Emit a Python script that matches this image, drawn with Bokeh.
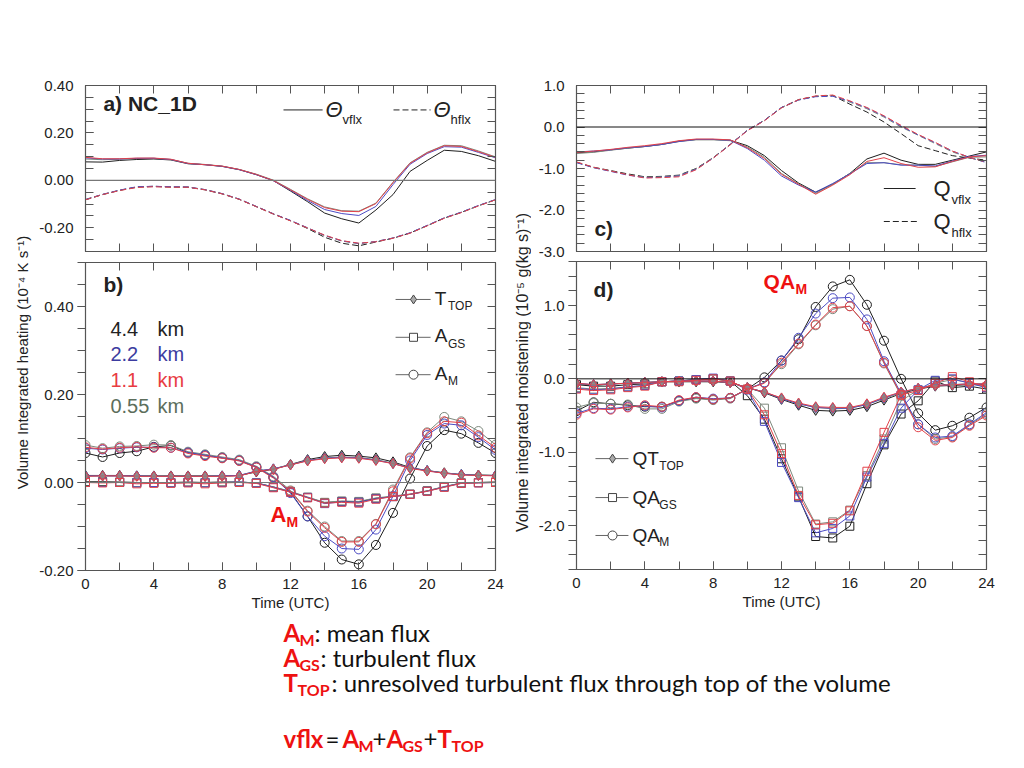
import math
from bokeh.plotting import figure
from bokeh.layouts import row, column
from bokeh.models import Range1d, LinearAxis, FixedTicker, Span, NumeralTickFormatter
from bokeh.core.properties import value
from bokeh.embed import file_html
from bokeh.resources import INLINE

# ---------------- data ----------------
HOURS = list(range(25))
RESOLUTIONS = ["4.4", "2.2", "1.1", "0.55"]
X_MAJOR = [0, 4, 8, 12, 16, 20, 24]

# panel a: volume integrated heating, vertical / horizontal flux
TV_44 = [0.078, 0.077, 0.084, 0.088, 0.090, 0.086, 0.070, 0.066, 0.059, 0.045, 0.024, -0.001, -0.045, -0.090, -0.138, -0.162, -0.180, -0.125, -0.060, 0.038, 0.084, 0.127, 0.122, 0.104, 0.080]
TV_22 = [0.095, 0.090, 0.090, 0.093, 0.093, 0.088, 0.071, 0.066, 0.059, 0.045, 0.024, -0.002, -0.042, -0.085, -0.123, -0.140, -0.148, -0.110, -0.018, 0.068, 0.113, 0.142, 0.140, 0.118, 0.095]
TV_11 = [0.097, 0.091, 0.091, 0.094, 0.094, 0.089, 0.072, 0.066, 0.060, 0.046, 0.025, -0.001, -0.040, -0.080, -0.115, -0.130, -0.132, -0.098, -0.010, 0.072, 0.116, 0.146, 0.143, 0.121, 0.097]
TV_055 = [0.090, 0.087, 0.089, 0.092, 0.093, 0.088, 0.072, 0.067, 0.060, 0.046, 0.026, 0.001, -0.038, -0.078, -0.112, -0.128, -0.130, -0.096, -0.008, 0.074, 0.118, 0.148, 0.146, 0.124, 0.099]
TH_44 = [-0.082, -0.060, -0.042, -0.028, -0.025, -0.028, -0.029, -0.040, -0.057, -0.080, -0.111, -0.142, -0.170, -0.203, -0.240, -0.265, -0.276, -0.260, -0.244, -0.222, -0.191, -0.159, -0.135, -0.107, -0.082]
TH_22 = [-0.081, -0.059, -0.041, -0.027, -0.025, -0.027, -0.028, -0.039, -0.056, -0.079, -0.110, -0.141, -0.169, -0.200, -0.232, -0.255, -0.266, -0.258, -0.243, -0.221, -0.190, -0.158, -0.134, -0.106, -0.081]
TH_11 = [-0.082, -0.060, -0.043, -0.030, -0.027, -0.029, -0.029, -0.040, -0.057, -0.080, -0.111, -0.142, -0.171, -0.201, -0.231, -0.254, -0.265, -0.259, -0.244, -0.223, -0.192, -0.160, -0.136, -0.108, -0.082]
TH_055 = [-0.080, -0.059, -0.042, -0.029, -0.026, -0.028, -0.028, -0.039, -0.056, -0.079, -0.110, -0.141, -0.170, -0.201, -0.233, -0.256, -0.267, -0.258, -0.243, -0.222, -0.191, -0.159, -0.135, -0.107, -0.081]

# panel b: heating components
TT_44 = [0.016, 0.016, 0.016, 0.015, 0.015, 0.015, 0.015, 0.015, 0.015, 0.016, 0.024, 0.030, 0.041, 0.052, 0.059, 0.062, 0.060, 0.056, 0.047, 0.034, 0.027, 0.022, 0.018, 0.017, 0.016]
TT_22 = [0.015, 0.015, 0.015, 0.015, 0.014, 0.014, 0.014, 0.014, 0.015, 0.016, 0.026, 0.031, 0.040, 0.050, 0.055, 0.057, 0.056, 0.051, 0.043, 0.033, 0.027, 0.021, 0.018, 0.016, 0.016]
TT_11 = [0.014, 0.015, 0.015, 0.014, 0.014, 0.014, 0.014, 0.014, 0.014, 0.015, 0.025, 0.030, 0.040, 0.049, 0.054, 0.056, 0.055, 0.050, 0.043, 0.032, 0.026, 0.021, 0.017, 0.016, 0.015]
TT_055 = [0.015, 0.015, 0.015, 0.015, 0.014, 0.014, 0.014, 0.014, 0.015, 0.016, 0.026, 0.031, 0.041, 0.050, 0.056, 0.058, 0.057, 0.052, 0.044, 0.033, 0.027, 0.022, 0.018, 0.017, 0.016]
GS_44 = [0.002, 0.002, 0.001, 0.000, 0.000, 0.000, 0.001, 0.000, 0.001, 0.001, -0.001, -0.010, -0.021, -0.034, -0.046, -0.043, -0.044, -0.036, -0.032, -0.027, -0.019, -0.010, -0.001, 0.000, 0.001]
GS_22 = [0.000, 0.000, 0.000, -0.001, 0.000, -0.001, 0.000, -0.001, 0.000, 0.001, -0.001, -0.011, -0.022, -0.034, -0.048, -0.044, -0.045, -0.037, -0.032, -0.027, -0.020, -0.010, -0.002, -0.001, 0.000]
GS_11 = [0.000, -0.001, 0.000, -0.003, -0.002, -0.002, -0.001, -0.003, -0.001, 0.000, -0.002, -0.012, -0.022, -0.035, -0.047, -0.045, -0.047, -0.038, -0.032, -0.027, -0.020, -0.011, -0.002, -0.001, 0.000]
GS_055 = [0.001, 0.001, 0.001, 0.000, 0.000, 0.000, 0.000, 0.000, 0.001, 0.001, -0.001, -0.010, -0.020, -0.033, -0.045, -0.042, -0.043, -0.035, -0.031, -0.026, -0.019, -0.009, -0.001, 0.000, 0.001]
AM_44 = [0.067, 0.058, 0.067, 0.071, 0.081, 0.084, 0.068, 0.062, 0.056, 0.050, 0.035, 0.012, -0.022, -0.077, -0.137, -0.175, -0.186, -0.142, -0.069, 0.009, 0.083, 0.119, 0.111, 0.090, 0.067]
AM_22 = [0.078, 0.075, 0.078, 0.080, 0.080, 0.079, 0.068, 0.062, 0.056, 0.050, 0.035, 0.012, -0.024, -0.077, -0.122, -0.150, -0.152, -0.107, -0.031, 0.050, 0.108, 0.134, 0.130, 0.103, 0.074]
AM_11 = [0.080, 0.076, 0.079, 0.081, 0.079, 0.079, 0.066, 0.060, 0.055, 0.049, 0.034, 0.010, -0.020, -0.066, -0.103, -0.135, -0.135, -0.095, -0.020, 0.055, 0.112, 0.139, 0.136, 0.107, 0.079]
AM_055 = [0.085, 0.078, 0.082, 0.083, 0.086, 0.085, 0.070, 0.064, 0.058, 0.052, 0.037, 0.014, -0.018, -0.064, -0.100, -0.133, -0.133, -0.094, -0.016, 0.057, 0.114, 0.149, 0.139, 0.117, 0.086]

# panel c: volume integrated moistening, vertical / horizontal flux
QV_44 = [-0.62, -0.60, -0.55, -0.51, -0.47, -0.42, -0.34, -0.30, -0.30, -0.32, -0.45, -0.69, -1.05, -1.35, -1.57, -1.38, -1.12, -0.77, -0.63, -0.80, -0.90, -0.90, -0.80, -0.70, -0.60]
QV_22 = [-0.60, -0.58, -0.55, -0.50, -0.47, -0.42, -0.35, -0.30, -0.30, -0.32, -0.52, -0.80, -1.18, -1.40, -1.57, -1.36, -1.13, -0.88, -0.86, -0.92, -0.92, -0.94, -0.82, -0.71, -0.68]
QV_11 = [-0.61, -0.58, -0.54, -0.49, -0.45, -0.40, -0.33, -0.29, -0.29, -0.31, -0.50, -0.76, -1.14, -1.38, -1.62, -1.40, -1.15, -0.83, -0.74, -0.88, -0.97, -0.96, -0.83, -0.72, -0.69]
QV_055 = [-0.64, -0.61, -0.56, -0.51, -0.47, -0.42, -0.35, -0.31, -0.31, -0.33, -0.48, -0.73, -1.12, -1.37, -1.60, -1.38, -1.12, -0.86, -0.86, -0.91, -0.92, -0.95, -0.84, -0.73, -0.72]
QH_44 = [-0.85, -0.97, -1.05, -1.13, -1.20, -1.19, -1.16, -1.00, -0.74, -0.42, -0.08, 0.16, 0.47, 0.66, 0.74, 0.76, 0.55, 0.36, 0.12, -0.16, -0.45, -0.57, -0.69, -0.75, -0.80]
QH_22 = [-0.86, -0.98, -1.07, -1.16, -1.22, -1.21, -1.18, -1.02, -0.75, -0.42, -0.08, 0.16, 0.47, 0.65, 0.73, 0.74, 0.62, 0.46, 0.26, 0.02, -0.19, -0.38, -0.58, -0.73, -0.86]
QH_11 = [-0.84, -0.97, -1.06, -1.15, -1.23, -1.22, -1.20, -1.03, -0.75, -0.43, -0.09, 0.15, 0.46, 0.66, 0.75, 0.77, 0.63, 0.47, 0.27, 0.04, -0.18, -0.37, -0.58, -0.73, -0.85]
QH_055 = [-0.85, -0.98, -1.06, -1.15, -1.21, -1.20, -1.17, -1.01, -0.74, -0.42, -0.08, 0.16, 0.46, 0.65, 0.74, 0.75, 0.60, 0.44, 0.24, 0.00, -0.20, -0.40, -0.60, -0.74, -0.85]

# panel d: moistening components
QT_44 = [-0.07, -0.09, -0.07, -0.06, -0.05, -0.04, -0.04, -0.04, -0.04, -0.05, -0.12, -0.19, -0.28, -0.36, -0.43, -0.44, -0.43, -0.38, -0.29, -0.20, -0.14, -0.10, -0.09, -0.08, -0.08]
QT_22 = [-0.06, -0.08, -0.07, -0.06, -0.05, -0.04, -0.03, -0.03, -0.03, -0.05, -0.12, -0.18, -0.27, -0.34, -0.39, -0.40, -0.40, -0.35, -0.26, -0.18, -0.13, -0.09, -0.08, -0.07, -0.07]
QT_11 = [-0.06, -0.08, -0.07, -0.06, -0.05, -0.04, -0.03, -0.03, -0.03, -0.05, -0.12, -0.18, -0.26, -0.33, -0.38, -0.39, -0.39, -0.34, -0.25, -0.18, -0.13, -0.09, -0.08, -0.07, -0.07]
QT_055 = [-0.07, -0.08, -0.07, -0.06, -0.05, -0.04, -0.03, -0.03, -0.03, -0.05, -0.12, -0.18, -0.27, -0.34, -0.39, -0.41, -0.40, -0.35, -0.27, -0.19, -0.13, -0.09, -0.08, -0.07, -0.07]
QG_44 = [-0.08, -0.10, -0.10, -0.08, -0.07, -0.04, -0.03, -0.01, 0.00, -0.03, -0.23, -0.55, -1.09, -1.61, -2.15, -2.17, -2.01, -1.43, -0.90, -0.48, -0.30, -0.03, -0.12, -0.10, -0.14]
QG_22 = [-0.13, -0.15, -0.14, -0.11, -0.09, -0.04, -0.03, -0.01, 0.01, -0.03, -0.15, -0.58, -1.14, -1.62, -2.10, -2.04, -1.87, -1.34, -0.88, -0.40, -0.15, -0.02, 0.00, -0.06, -0.12]
QG_11 = [-0.14, -0.16, -0.15, -0.12, -0.10, -0.04, -0.04, -0.02, 0.00, -0.03, -0.14, -0.49, -1.02, -1.59, -1.99, -1.97, -1.80, -1.26, -0.73, -0.22, -0.16, -0.06, 0.03, -0.04, -0.11]
QG_055 = [-0.12, -0.14, -0.13, -0.11, -0.09, -0.04, -0.03, -0.01, 0.00, -0.03, -0.14, -0.40, -0.94, -1.53, -1.98, -1.95, -1.79, -1.32, -0.82, -0.30, -0.15, -0.06, -0.01, -0.05, -0.12]
QM_44 = [-0.44, -0.32, -0.34, -0.36, -0.38, -0.38, -0.30, -0.26, -0.28, -0.26, -0.14, 0.02, 0.25, 0.54, 0.98, 1.26, 1.35, 1.01, 0.52, 0.00, -0.47, -0.70, -0.64, -0.53, -0.39]
QM_22 = [-0.47, -0.40, -0.41, -0.38, -0.37, -0.39, -0.30, -0.25, -0.27, -0.26, -0.14, -0.05, 0.25, 0.56, 0.89, 1.10, 1.11, 0.81, 0.24, -0.20, -0.62, -0.80, -0.78, -0.62, -0.46]
QM_11 = [-0.49, -0.41, -0.42, -0.39, -0.36, -0.38, -0.29, -0.25, -0.28, -0.26, -0.14, -0.06, 0.22, 0.48, 0.74, 0.97, 0.99, 0.72, 0.22, -0.22, -0.66, -0.84, -0.80, -0.64, -0.50]
QM_055 = [-0.39, -0.33, -0.34, -0.35, -0.41, -0.41, -0.31, -0.27, -0.29, -0.27, -0.14, -0.05, 0.20, 0.47, 0.73, 0.95, 0.99, 0.72, 0.21, -0.23, -0.62, -0.82, -0.79, -0.63, -0.48]

# ---------------- style ----------------
COLORS = ["#1e1e1e", "#4c4cc4", "#e2424a", "#7c887c"]
TEXT_COLORS = ["#222222", "#3c3ca0", "#e83c42", "#5c6e5c"]
DRAW_ORDER = [0, 3, 1, 2]
FRAME = "#555555"
FONT = "Liberation Sans"
NOTE_FONT = "Lato"
RED = "#ee1111"


def make_panel(width, height, yr, borders):
    p = figure(width=width, height=height, x_range=Range1d(0, 24), y_range=Range1d(*yr),
               output_backend="svg", toolbar_location=None, tools="")
    p.min_border_left, p.min_border_right, p.min_border_top, p.min_border_bottom = borders
    p.grid.visible = False
    p.outline_line_color = FRAME
    p.outline_line_width = 1.2
    p.background_fill_color = "white"
    p.border_fill_color = "white"
    return p


def base_axis(ax, ticker, tin, tout):
    ax.ticker = ticker
    ax.axis_line_color = FRAME
    ax.major_tick_line_color = FRAME
    ax.minor_tick_line_color = FRAME
    ax.major_tick_in = tin
    ax.major_tick_out = tout
    ax.minor_tick_in = tin
    ax.minor_tick_out = tout


def label_axis(ax, fmt=None, standoff=8):
    ax.major_label_text_font = FONT
    ax.major_label_text_font_size = "15px"
    ax.major_label_text_color = "#222222"
    ax.major_label_standoff = standoff
    if fmt:
        ax.formatter = NumeralTickFormatter(format=fmt)


def tick_only_axis(p, ticks, side, tin=8):
    # an axis with only (minor) tick marks and no labels
    ax = LinearAxis(ticker=FixedTicker(ticks=[], minor_ticks=ticks))
    base_axis(ax, ax.ticker, tin, 0)
    ax.major_label_standoff = 0
    p.add_layout(ax, side)
    return ax


def setup_axes(p, ymaj, ymin, fmt, xlabels, left_out):
    xall = list(range(0, 25, 2))
    if xlabels:
        base_axis(p.xaxis[0], FixedTicker(ticks=X_MAJOR, minor_ticks=xall), 8, 0)
        label_axis(p.xaxis[0], standoff=8)
        p.xaxis[0].axis_label = "Time (UTC)"
        p.xaxis[0].axis_label_text_font = FONT
        p.xaxis[0].axis_label_text_font_size = "15px"
        p.xaxis[0].axis_label_text_font_style = "normal"
        p.xaxis[0].axis_label_text_color = "#222222"
        p.xaxis[0].axis_label_standoff = 2
    else:
        p.xaxis[0].visible = False
        tick_only_axis(p, xall, "below")
    yt = FixedTicker(ticks=ymaj, minor_ticks=ymin)
    if left_out:
        base_axis(p.yaxis[0], yt, 0, 8)
        label_axis(p.yaxis[0], fmt=fmt, standoff=4)
    else:
        base_axis(p.yaxis[0], yt, 8, 0)
        label_axis(p.yaxis[0], fmt=fmt, standoff=12)
    tick_only_axis(p, xall, "above")
    tick_only_axis(p, ymin, "right")


def txt(p, x, y, s, size, color="#222222", style="normal", align="left", font=FONT, angle=0.0):
    p.text(x=[x], y=[y], text=[s], text_font=value(font), text_font_size=f"{size}px",
           text_color=color, text_align=align, text_baseline="middle",
           text_font_style=style, angle=angle)


def steps(lo, hi, step):
    n = int(round((hi - lo) / step))
    return [round(lo + i * step, 3) for i in range(n + 1)]


# ---------------- panel a ----------------
pa = make_panel(477, 260, (-0.30, 0.40), (53, 14, 85, 9))
setup_axes(pa, [-0.2, 0.0, 0.2, 0.4], steps(-0.30, 0.40, 0.05), "0.00", False, False)
pa.add_layout(Span(location=0, dimension="width", line_color="#777777", line_width=1.2))
for i in DRAW_ORDER:
    pa.line(HOURS, [TV_44, TV_22, TV_11, TV_055][i], line_color=COLORS[i], line_width=1)
    pa.line(HOURS, [TH_44, TH_22, TH_11, TH_055][i], line_color=COLORS[i], line_width=1, line_dash="6 3")
txt(pa, 1.05, 0.324, "a) NC_1D", 21, style="bold")
pa.line([11.59, 13.88], [0.297, 0.297], line_color="#222222", line_width=1)
txt(pa, 14.05, 0.297, "Θ", 22, style="italic")
txt(pa, 15.05, 0.258, "vflx", 13)
pa.line([18.03, 20.2], [0.297, 0.297], line_color="#222222", line_width=1, line_dash="6 3")
txt(pa, 20.37, 0.297, "Θ", 22, style="italic")
txt(pa, 21.37, 0.258, "hflx", 13)

# ---------------- panel b ----------------
pb = make_panel(477, 356, (-0.20, 0.50), (53, 14, 2, 46))
setup_axes(pb, [-0.2, 0.0, 0.2, 0.4], steps(-0.20, 0.50, 0.05), "0.00", True, True)
pb.add_layout(Span(location=0, dimension="width", line_color="#777777", line_width=1.2))
for i in DRAW_ORDER:
    c = COLORS[i]
    for ys, mk, sz in (([TT_44, TT_22, TT_11, TT_055][i], "diamond", 10),
                       ([GS_44, GS_22, GS_11, GS_055][i], "square", 8),
                       ([AM_44, AM_22, AM_11, AM_055][i], "circle", 9)):
        pb.line(HOURS, ys, line_color=c, line_width=1)
        if mk == "diamond":
            pb.scatter(HOURS, ys, marker=mk, size=sz, line_color=c, fill_color="#8a8a8a", fill_alpha=0.6)
        else:
            pb.scatter(HOURS, ys, marker=mk, size=sz, line_color=c, fill_color=None)
txt(pb, 1.05, 0.45, "b)", 21, style="bold")
for k, (lab, yv) in enumerate(zip(RESOLUTIONS, [0.348, 0.291, 0.232, 0.173])):
    txt(pb, 1.46, yv, lab, 20, color=TEXT_COLORS[k])
    txt(pb, 4.22, yv, "km", 20, color=TEXT_COLORS[k])
for yv, mk, main, sub, ys in ((0.416, "diamond", "T", "TOP", 0.402),
                               (0.330, "square", "A", "GS", 0.314),
                               (0.245, "circle", "A", "M", 0.230)):
    pb.line([18.15, 20.2], [yv, yv], line_color="#666666", line_width=1)
    pb.scatter([19.2], [yv], marker=mk, size=9 if mk != "square" else 8, line_color="#444444",
               fill_color="#aaaaaa" if mk == "diamond" else "white")
    txt(pb, 20.45, yv + 0.003, main, 19)
    txt(pb, 21.22, ys, sub, 12)
txt(pb, 10.83, -0.073, "A", 22, color=RED, style="bold")
txt(pb, 11.77, -0.090, "M", 14, color=RED, style="bold")

# ---------------- panel c ----------------
pc = make_panel(485, 260, (-3.0, 1.0), (44, 30, 85, 9))
setup_axes(pc, [-3.0, -2.0, -1.0, 0.0, 1.0], steps(-3.0, 1.0, 0.2), "0.0", False, False)
pc.add_layout(Span(location=0, dimension="width", line_color="#111111", line_width=1))
for i in DRAW_ORDER:
    pc.line(HOURS, [QV_44, QV_22, QV_11, QV_055][i], line_color=COLORS[i], line_width=1)
    pc.line(HOURS, [QH_44, QH_22, QH_11, QH_055][i], line_color=COLORS[i], line_width=1, line_dash="6 3")
txt(pc, 1.05, -2.446, "c)", 21, style="bold")
pc.line([17.99, 19.85], [-1.482, -1.482], line_color="#222222", line_width=1)
txt(pc, 20.9, -1.482, "Q", 22)
txt(pc, 21.95, -1.747, "vflx", 13)
pc.line([17.99, 19.95], [-2.277, -2.277], line_color="#222222", line_width=1, line_dash="6 3")
txt(pc, 20.9, -2.277, "Q", 22)
txt(pc, 21.95, -2.542, "hflx", 13)

# ---------------- panel d ----------------
pd_ = make_panel(485, 356, (-2.6, 1.6), (45, 30, 1, 47))
setup_axes(pd_, [-2.0, -1.0, 0.0, 1.0], steps(-2.6, 1.6, 0.2), "0.0", True, True)
pd_.add_layout(Span(location=0, dimension="width", line_color="#111111", line_width=1))
for i in DRAW_ORDER:
    c = COLORS[i]
    for ys, mk, sz in (([QT_44, QT_22, QT_11, QT_055][i], "diamond", 10),
                       ([QG_44, QG_22, QG_11, QG_055][i], "square", 8),
                       ([QM_44, QM_22, QM_11, QM_055][i], "circle", 9)):
        pd_.line(HOURS, ys, line_color=c, line_width=1)
        if mk == "diamond":
            pd_.scatter(HOURS, ys, marker=mk, size=sz, line_color=c, fill_color="#8a8a8a", fill_alpha=0.6)
        else:
            pd_.scatter(HOURS, ys, marker=mk, size=sz, line_color=c, fill_color=None)
txt(pd_, 1.0, 1.224, "d)", 21, style="bold")
txt(pd_, 10.95, 1.333, "QA", 21, color=RED, style="bold")
txt(pd_, 12.82, 1.224, "M", 14, color=RED, style="bold")
for yv, mk, main, sub, ys in ((-1.088, "diamond", "QT", "TOP", -1.184),
                               (-1.619, "square", "QA", "GS", -1.714),
                               (-2.136, "circle", "QA", "M", -2.231)):
    pd_.line([1.11, 3.04], [yv, yv], line_color="#666666", line_width=1)
    pd_.scatter([2.11], [yv], marker=mk, size=9 if mk != "square" else 8, line_color="#444444",
                fill_color="#aaaaaa" if mk == "diamond" else "white")
    txt(pd_, 3.28, yv, main, 19)
    txt(pd_, 4.85, ys, sub, 12)

# ---------------- y-axis titles ----------------
def label_fig(x0, x1):
    p = figure(width=x1 - x0, height=616, x_range=Range1d(x0, x1), y_range=Range1d(616, 0),
               output_backend="svg", toolbar_location=None, tools="",
               x_axis_type=None, y_axis_type=None)
    p.min_border = 0
    p.grid.visible = False
    p.outline_line_color = None
    return p

lab_l = label_fig(0, 32)
txt(lab_l, 22, 362, "Volume Integrated heating (10⁻⁴ K s⁻¹)", 15, align="center", angle=math.pi / 2)
lab_m = label_fig(509, 531)
txt(lab_m, 522, 372, "Volume integrated moistening (10⁻⁵ g(kg s)⁻¹)", 16, align="center", angle=math.pi / 2)

# ---------------- notes ----------------
notes = figure(width=1016, height=144, x_range=Range1d(0, 1016), y_range=Range1d(760, 616),
               output_backend="svg", toolbar_location=None, tools="",
               x_axis_type=None, y_axis_type=None)
notes.min_border = 0
notes.grid.visible = False
notes.outline_line_color = None
NS, SS = 24, 16
txt(notes, 283, 632, "A", NS, color=RED, style="bold", font=NOTE_FONT)
txt(notes, 299, 639, "M", SS, color=RED, style="bold", font=NOTE_FONT)
txt(notes, 314, 632, ": mean flux", NS, color="#111111", font=NOTE_FONT)
txt(notes, 283, 657, "A", NS, color=RED, style="bold", font=NOTE_FONT)
txt(notes, 299, 664, "GS", SS, color=RED, style="bold", font=NOTE_FONT)
txt(notes, 320, 657, ": turbulent flux", NS, color="#111111", font=NOTE_FONT)
txt(notes, 283, 682, "T", NS, color=RED, style="bold", font=NOTE_FONT)
txt(notes, 297, 689, "TOP", SS, color=RED, style="bold", font=NOTE_FONT)
txt(notes, 331, 682, ": unresolved turbulent flux through top of the volume", NS, color="#111111", font=NOTE_FONT)
txt(notes, 283, 738, "vflx", NS, color=RED, style="bold", font=NOTE_FONT)
txt(notes, 325, 738, "=", NS, color="#111111", font=NOTE_FONT)
txt(notes, 342, 738, "A", NS, color=RED, style="bold", font=NOTE_FONT)
txt(notes, 358, 745, "M", SS, color=RED, style="bold", font=NOTE_FONT)
txt(notes, 372, 738, "+", NS, color="#111111", font=NOTE_FONT)
txt(notes, 386, 738, "A", NS, color=RED, style="bold", font=NOTE_FONT)
txt(notes, 402, 745, "GS", SS, color=RED, style="bold", font=NOTE_FONT)
txt(notes, 423, 738, "+", NS, color="#111111", font=NOTE_FONT)
txt(notes, 437, 738, "T", NS, color=RED, style="bold", font=NOTE_FONT)
txt(notes, 451, 745, "TOP", SS, color=RED, style="bold", font=NOTE_FONT)

layout = column(row(lab_l, column(pa, pb), lab_m, column(pc, pd_)), notes)
open("out.html", "w").write(file_html(layout, INLINE))
